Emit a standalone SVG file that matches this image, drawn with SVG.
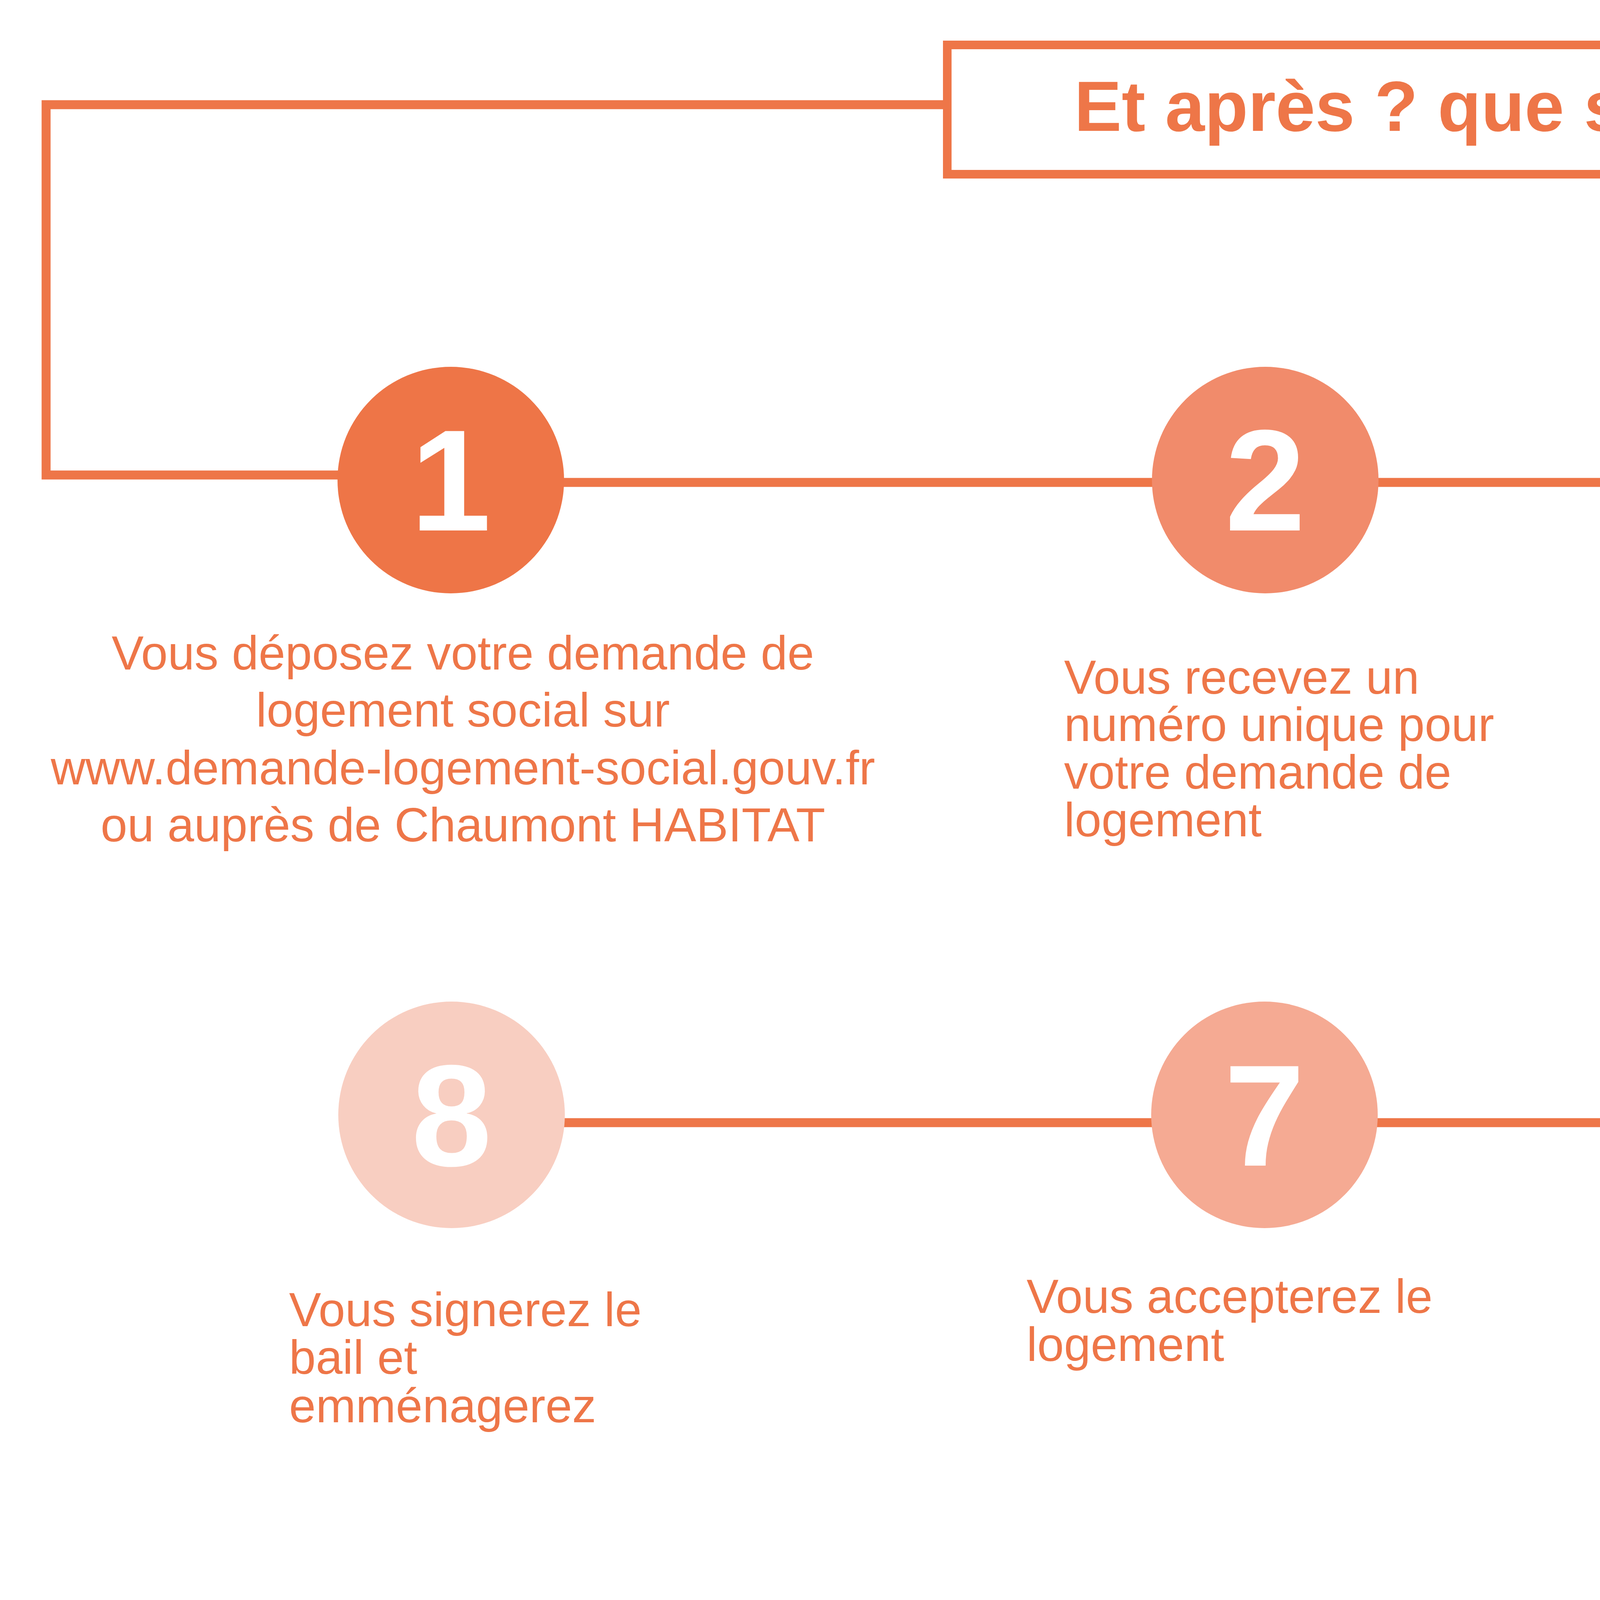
<svg xmlns="http://www.w3.org/2000/svg" width="7955" height="4167" viewBox="0 0 7955 4167">
<style>
.bg{fill:#FFFFFF}
.ln{fill:none;stroke:#EE7648;stroke-width:23}
.box{fill:#FFFFFF;stroke:#EE7648;stroke-width:22}
.c1{fill:#EE7547}
.c2{fill:#F18B6B}
.c3{fill:#F5AA93}
.c4{fill:#F8CEC1}
.num{font-family:"Liberation Sans",Arial,sans-serif;font-weight:bold;font-size:370px;fill:#FFFFFF;text-anchor:middle}
.title{font-family:"Liberation Sans",Arial,sans-serif;font-weight:bold;font-size:182px;fill:#EE7648;text-anchor:middle}
.txt{font-family:"Liberation Sans",Arial,sans-serif;font-size:123px;fill:#EE7648}
.mid{text-anchor:middle}
.note{font-family:"Liberation Sans",Arial,sans-serif;font-size:80px;fill:#EE7648}
</style>
<rect class="bg" x="0" y="0" width="7955" height="4167"/>
<g id="connectors">
<path class="ln" d="M2425 268 H118 V1216 H1154"/>
<path class="ln" d="M1154 1235 H6862"/>
<path class="ln" d="M6862 1249 H7838 V2878 H6862"/>
<path class="ln" d="M6862 2874 H1156"/>
</g>
<g id="title">
<rect class="box" x="2425" y="115" width="3046" height="331"/>
<text class="title" x="3984" y="335">Et après ? que se passe-t-il?</text>
</g>
<g id="step1">
<circle class="c1" cx="1154" cy="1229" r="290"/>
<text class="num" x="1154" y="1358">1</text>
<text class="txt mid" x="1185" y="1714">Vous déposez votre demande de</text>
<text class="txt mid" x="1185" y="1860">logement social sur</text>
<text class="txt mid" x="1185" y="2008">www.demande-logement-social.gouv.fr</text>
<text class="txt mid" x="1185" y="2154">ou auprès de Chaumont HABITAT</text>
</g>
<g id="step2">
<circle class="c2" cx="3239" cy="1229" r="290"/>
<text class="num" x="3239" y="1358">2</text>
<text class="txt" x="2724" y="1776">Vous recevez un</text>
<text class="txt" x="2724" y="1897">numéro unique pour</text>
<text class="txt" x="2724" y="2019">votre demande de</text>
<text class="txt" x="2724" y="2141">logement</text>
</g>
<g id="step3">
<circle class="c3" cx="5116" cy="1229" r="290"/>
<text class="num" x="5116" y="1358">3</text>
<text class="txt" x="4588" y="1776">Une commerciale</text>
<text class="txt" x="4588" y="1897">vous contactera et</text>
<text class="txt" x="4588" y="2019">vous proposera des</text>
<text class="txt" x="4588" y="2141">logements</text>
</g>
<g id="step4">
<circle class="c4" cx="6862" cy="1229" r="290"/>
<text class="num" x="6862" y="1358">4</text>
<text class="txt" x="6280" y="1776">Vous choisirez un</text>
<text class="txt" x="6280" y="1897">logement parmi les</text>
<text class="txt" x="6280" y="2019">offres et pourrez le</text>
<text class="txt" x="6280" y="2141">visiter</text>
</g>
<g id="step5">
<circle class="c1" cx="6862" cy="2854" r="290"/>
<text class="num" x="6862" y="2984">5</text>
<text class="txt" x="6280" y="3361">Votre dossier passera</text>
<text class="txt" x="6280" y="3484">en CALEOL*</text>
</g>
<g id="step6">
<circle class="c2" cx="5127" cy="2854" r="290"/>
<text class="num" x="5127" y="2984">6</text>
<text class="txt" x="4416" y="3361">La Commission validera</text>
<text class="txt" x="4416" y="3484">votre dossier et vous fera</text>
<text class="txt" x="4416" y="3607">part de sa décision sous 10</text>
<text class="txt" x="4416" y="3730">jours</text>
</g>
<g id="step7">
<circle class="c3" cx="3237" cy="2854" r="290"/>
<text class="num" x="3237" y="2984">7</text>
<text class="txt" x="2628" y="3361">Vous accepterez le</text>
<text class="txt" x="2628" y="3484">logement</text>
</g>
<g id="step8">
<circle class="c4" cx="1156" cy="2854" r="290"/>
<text class="num" x="1156" y="2984">8</text>
<text class="txt" x="740" y="3395">Vous signerez le</text>
<text class="txt" x="740" y="3517">bail et</text>
<text class="txt" x="740" y="3641">emménagerez</text>
</g>
<g id="footnote">
<text class="note" x="4820" y="4151">*</text>
<text class="note" x="4924" y="4151" textLength="2900" lengthAdjust="spacingAndGlyphs">Commission d’Attributiondes Logements  et d’Examen de l’Occupation des Logements</text>
</g>
</svg>
